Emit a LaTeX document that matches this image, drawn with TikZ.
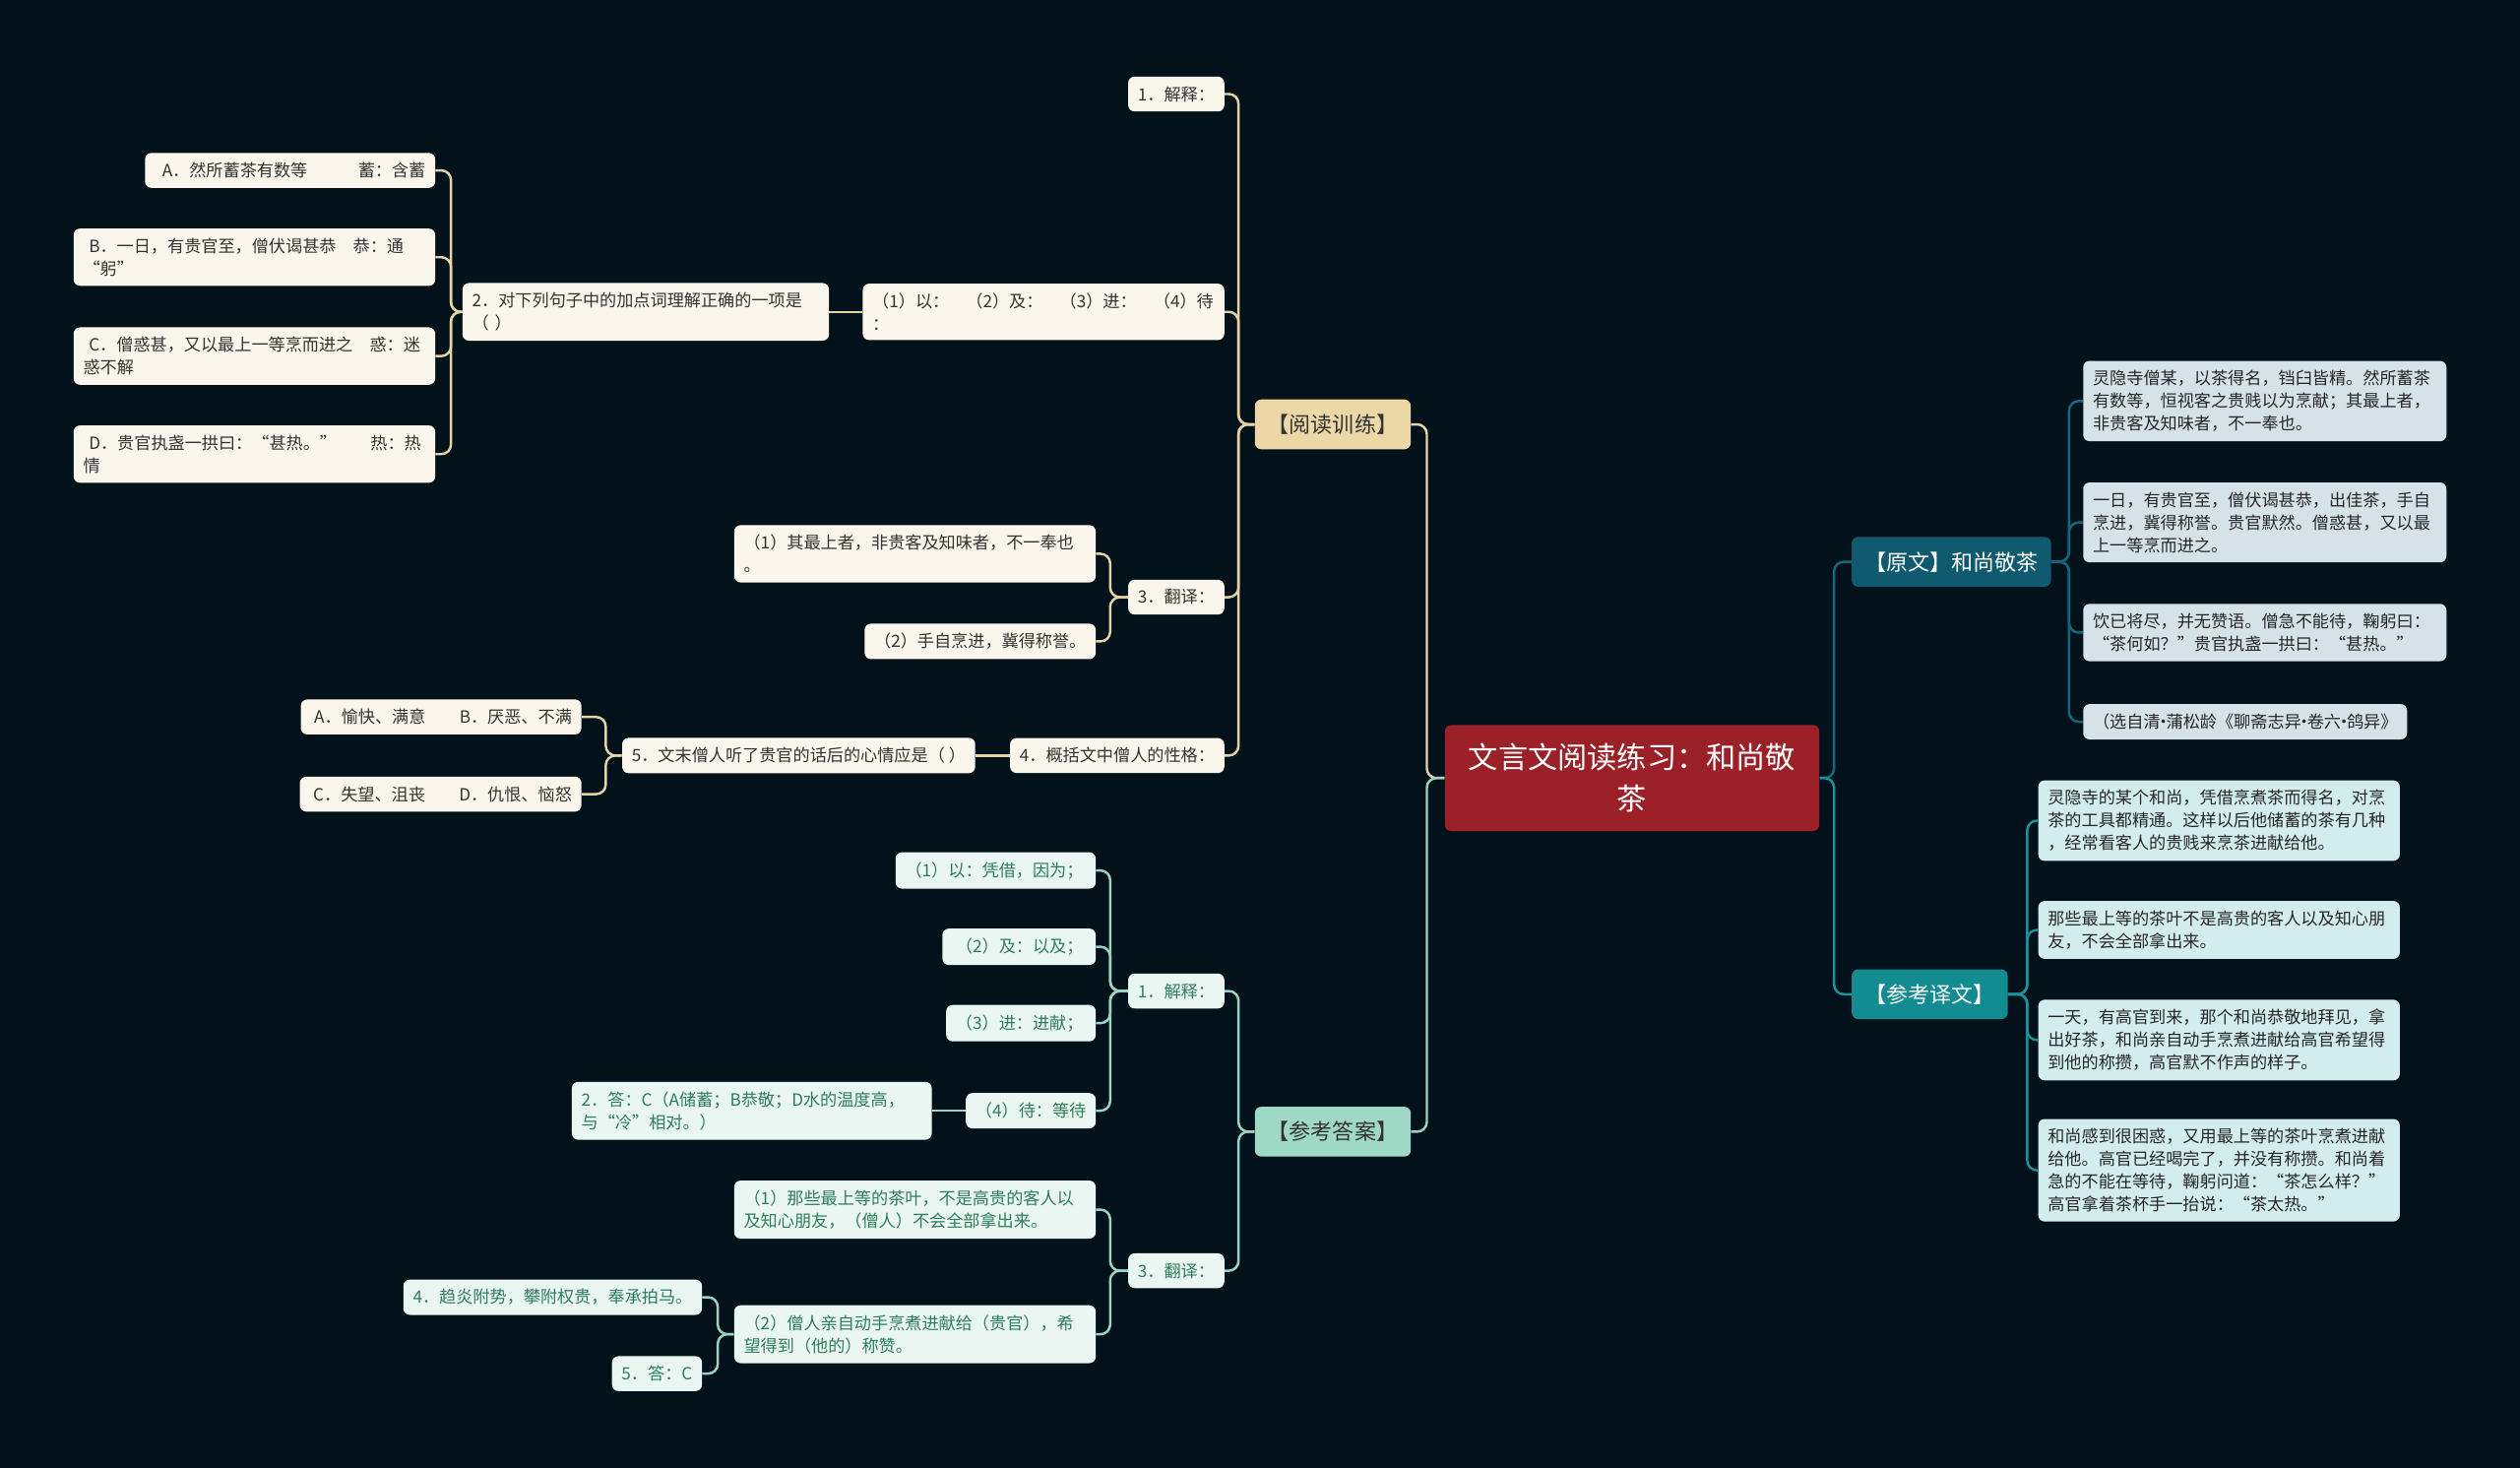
\documentclass[tikz,border=0pt]{standalone}
\usepackage{fontspec}
\usepackage{xcolor}
\usepackage{tikz}
\usetikzlibrary{positioning}
\newfontfamily\cjk{Noto Sans CJK SC}
\newcommand{\mdot}{\hbox to 0.35em{\hss·\hss}}

\definecolor{bgcol}{HTML}{03111B}
\definecolor{rootred}{HTML}{9B2028}
\definecolor{ydfill}{HTML}{EBD8A6}
\definecolor{ydline}{HTML}{E3D4A4}
\definecolor{ydleaf}{HTML}{FAF6EB}
\definecolor{dafill}{HTML}{9FD9C5}
\definecolor{daline}{HTML}{9CD3C0}
\definecolor{daleaf}{HTML}{E9F6F1}
\definecolor{datext}{HTML}{2F7D5F}
\definecolor{ywfill}{HTML}{0F5A6E}
\definecolor{ywline}{HTML}{16667A}
\definecolor{ywleaf}{HTML}{D5E3E8}
\definecolor{yyfill}{HTML}{138C91}
\definecolor{yyline}{HTML}{17959A}
\definecolor{yyleaf}{HTML}{D3EDEF}

\begin{document}
\begin{tikzpicture}[x=1pt, y=-1pt,
    font=\cjk\fontsize{10.5}{14}\selectfont,
    box/.style={rounded corners=4pt, inner xsep=6pt, inner ysep=6pt, align=left},
    rootbox/.style={box, fill=rootred, text=white, align=center, inner xsep=10pt, inner ysep=9pt,
        font=\cjk\fontsize{18.5}{26}\selectfont, minimum width=233pt, minimum height=66pt},
    lvone/.style={box, inner xsep=8pt, minimum height=31pt, font=\cjk\fontsize{13.5}{16}\selectfont},
    ydbox/.style={lvone, fill=ydfill, text=black!80},
    dabox/.style={lvone, fill=dafill, text=black!80},
    ywbox/.style={lvone, fill=ywfill, text=white},
    yybox/.style={lvone, fill=yyfill, text=white},
    ydleafbox/.style={box, fill=ydleaf, text=black!80},
    daleafbox/.style={box, fill=daleaf, text=datext},
    ywleafbox/.style={box, fill=ywleaf, text=black!85},
    yyleafbox/.style={box, fill=yyleaf, text=black!85},
    link/.style={line width=1.5pt, rounded corners=6pt},
    ydlink/.style={link, draw=ydline},
    dalink/.style={link, draw=daline},
    ywlink/.style={link, draw=ywline},
    yylink/.style={link, draw=yyline}]

    % =================================================================
    % 1. NỀN VÀ KHUNG
    % =================================================================
    \fill[bgcol] (0,0) rectangle (1568,913);
    \useasboundingbox (0,0) rectangle (1568,913);

    % =================================================================
    % 2. NÚT GỐC
    % =================================================================
    \node[rootbox] (root) at (1015.5,484) {文言文阅读练习：和尚敬\\茶};

    % =================================================================
    % 3. NHÁNH PHẢI: 原文 VÀ 参考译文
    % =================================================================
    \node[ywbox, anchor=west] (yw) at (1152,349.5) {【原文】和尚敬茶};
    \node[yybox, anchor=west] (yy) at (1152,618.5) {【参考译文】};

    % Các đoạn nguyên văn
    \node[ywleafbox, anchor=west, text width=214pt] (yw1) at (1296,249.5)
        {灵隐寺僧某，以茶得名，铛臼皆精。然所蓄茶\\有数等，恒视客之贵贱以为烹献；其最上者，\\非贵客及知味者，不一奉也。};
    \node[ywleafbox, anchor=west, text width=214pt] (yw2) at (1296,325)
        {一日，有贵官至，僧伏谒甚恭，出佳茶，手自\\烹进，冀得称誉。贵官默然。僧惑甚，又以最\\上一等烹而进之。};
    \node[ywleafbox, anchor=west, text width=214pt] (yw3) at (1296,393.5)
        {饮已将尽，并无赞语。僧急不能待，鞠躬曰：\\“茶何如？”贵官执盏一拱曰：“甚热。”};
    \node[ywleafbox, anchor=west] (yw4) at (1296,449)
        {（选自清\mdot 蒲松龄《聊斋志异\mdot 卷六\mdot 鸽异》};

    % Các đoạn dịch
    \node[yyleafbox, anchor=west, text width=213pt] (yy1) at (1268,510.5)
        {灵隐寺的某个和尚，凭借烹煮茶而得名，对烹\\茶的工具都精通。这样以后他储蓄的茶有几种\\，经常看客人的贵贱来烹茶进献给他。};
    \node[yyleafbox, anchor=west, text width=213pt] (yy2) at (1268,578.5)
        {那些最上等的茶叶不是高贵的客人以及知心朋\\友，不会全部拿出来。};
    \node[yyleafbox, anchor=west, text width=213pt] (yy3) at (1268,647)
        {一天，有高官到来，那个和尚恭敬地拜见，拿\\出好茶，和尚亲自动手烹煮进献给高官希望得\\到他的称攒，高官默不作声的样子。};
    \node[yyleafbox, anchor=west, text width=213pt] (yy4) at (1268,728)
        {和尚感到很困惑，又用最上等的茶叶烹煮进献\\给他。高官已经喝完了，并没有称攒。和尚着\\急的不能在等待，鞠躬问道：“茶怎么样？”\\高官拿着茶杯手一抬说：“茶太热。”};

    % =================================================================
    % 4. NHÁNH TRÁI: 阅读训练
    % =================================================================
    \node[ydbox, anchor=east] (yd) at (878,264) {【阅读训练】};

    \node[ydleafbox, anchor=east] (ydj) at (762,58.5) {1．解释：};
    \node[ydleafbox, anchor=east, text width=213pt] (ydq) at (762,194)
        {（1）以：　（2）及：　（3）进：　（4）待\\：};
    \node[ydleafbox, anchor=east, text width=216pt] (ydq2) at (516,194)
        {2．对下列句子中的加点词理解正确的一项是\\（ ）};
    \node[ydleafbox, anchor=east] (yda) at (271,106) {\ \ A．然所蓄茶有数等　　　蓄：含蓄};
    \node[ydleafbox, anchor=east, text width=213pt] (ydb) at (271,160)
        {\ B．一日，有贵官至，僧伏谒甚恭　恭：通\\“躬”};
    \node[ydleafbox, anchor=east, text width=213pt] (ydc) at (271,221.5)
        {\ C．僧惑甚，又以最上一等烹而进之　惑：迷\\惑不解};
    \node[ydleafbox, anchor=east, text width=213pt] (ydd) at (271,282.5)
        {\ D．贵官执盏一拱曰：“甚热。”　　热：热\\情};

    \node[ydleafbox, anchor=east] (ydf) at (762,371.5) {3．翻译：};
    \node[ydleafbox, anchor=east, text width=213pt] (ydf1) at (682,344.5)
        {（1）其最上者，非贵客及知味者，不一奉也\\。};
    \node[ydleafbox, anchor=east] (ydf2) at (682,399) {（2）手自烹进，冀得称誉。};

    \node[ydleafbox, anchor=east] (ydg) at (762,470) {4．概括文中僧人的性格：};
    \node[ydleafbox, anchor=east] (ydg5) at (607,470) {5．文末僧人听了贵官的话后的心情应是（ ）};
    \node[ydleafbox, anchor=east] (ydgab) at (362,446) {\ A．愉快、满意　　B．厌恶、不满};
    \node[ydleafbox, anchor=east] (ydgcd) at (362,494) {\ C．失望、沮丧　　D．仇恨、恼怒};

    % =================================================================
    % 5. NHÁNH TRÁI: 参考答案
    % =================================================================
    \node[dabox, anchor=east] (da) at (878,704) {【参考答案】};

    \node[daleafbox, anchor=east] (daj) at (762,616.5) {1．解释：};
    \node[daleafbox, anchor=east] (daj1) at (682,541.5) {（1）以：凭借，因为；\,};
    \node[daleafbox, anchor=east] (daj2) at (682,589) {\ （2）及：以及；\,};
    \node[daleafbox, anchor=east] (daj3) at (682,636.5) {（3）进：进献；\,};
    \node[daleafbox, anchor=east] (daj4) at (682,691) {（4）待：等待};
    \node[daleafbox, anchor=east, text width=212pt] (daj5) at (580,691)
        {2．答：C（A储蓄；B恭敬；D水的温度高，\\与“冷”相对。）};

    \node[daleafbox, anchor=east] (daf) at (762,790.5) {3．翻译：};
    \node[daleafbox, anchor=east, text width=213pt] (daf1) at (682,752.5)
        {（1）那些最上等的茶叶，不是高贵的客人以\\及知心朋友，（僧人）不会全部拿出来。};
    \node[daleafbox, anchor=east, text width=213pt] (daf2) at (682,830)
        {（2）僧人亲自动手烹煮进献给（贵官），希\\望得到（他的）称赞。};
    \node[daleafbox, anchor=east] (daf3) at (437,807) {4．趋炎附势，攀附权贵，奉承拍马。};
    \node[daleafbox, anchor=east] (daf4) at (437,854.5) {5．答：C};

    % =================================================================
    % 6. ĐƯỜNG NỐI
    % =================================================================
    % Gốc ra bốn nhánh
    \draw[ydlink] (root.west) -- ++(-11,0) |- (yd.east);
    \draw[dalink] (root.west) -- ++(-11,0) |- (da.east);
    \draw[ywlink] (root.east) -- ++(9,0) |- (yw.west);
    \draw[yylink] (root.east) -- ++(9,0) |- (yy.west);

    % Nhánh phải
    \foreach \c in {yw1,yw2,yw3,yw4}
        \draw[ywlink] (yw.east) -- ++(11,0) |- (\c.west);
    \foreach \c in {yy1,yy2,yy3,yy4}
        \draw[yylink] (yy.east) -- ++(12,0) |- (\c.west);

    % Nhánh 阅读训练
    \foreach \c in {ydj,ydq,ydf,ydg}
        \draw[ydlink] (yd.west) -- ++(-10,0) |- (\c.east);
    \draw[ydlink] (ydq.west) -- (ydq2.east);
    \foreach \c in {yda,ydb,ydc,ydd}
        \draw[ydlink] (ydq2.west) -- ++(-7,0) |- (\c.east);
    \foreach \c in {ydf1,ydf2}
        \draw[ydlink] (ydf.west) -- ++(-11,0) |- (\c.east);
    \draw[ydlink] (ydg.west) -- (ydg5.east);
    \foreach \c in {ydgab,ydgcd}
        \draw[ydlink] (ydg5.west) -- ++(-10,0) |- (\c.east);

    % Nhánh 参考答案
    \foreach \c in {daj,daf}
        \draw[dalink] (da.west) -- ++(-10,0) |- (\c.east);
    \foreach \c in {daj1,daj2,daj3,daj4}
        \draw[dalink] (daj.west) -- ++(-11,0) |- (\c.east);
    \draw[dalink] (daj4.west) -- (daj5.east);
    \foreach \c in {daf1,daf2}
        \draw[dalink] (daf.west) -- ++(-11,0) |- (\c.east);
    \foreach \c in {daf3,daf4}
        \draw[dalink] (daf2.west) -- ++(-10,0) |- (\c.east);

\end{tikzpicture}
\end{document}
